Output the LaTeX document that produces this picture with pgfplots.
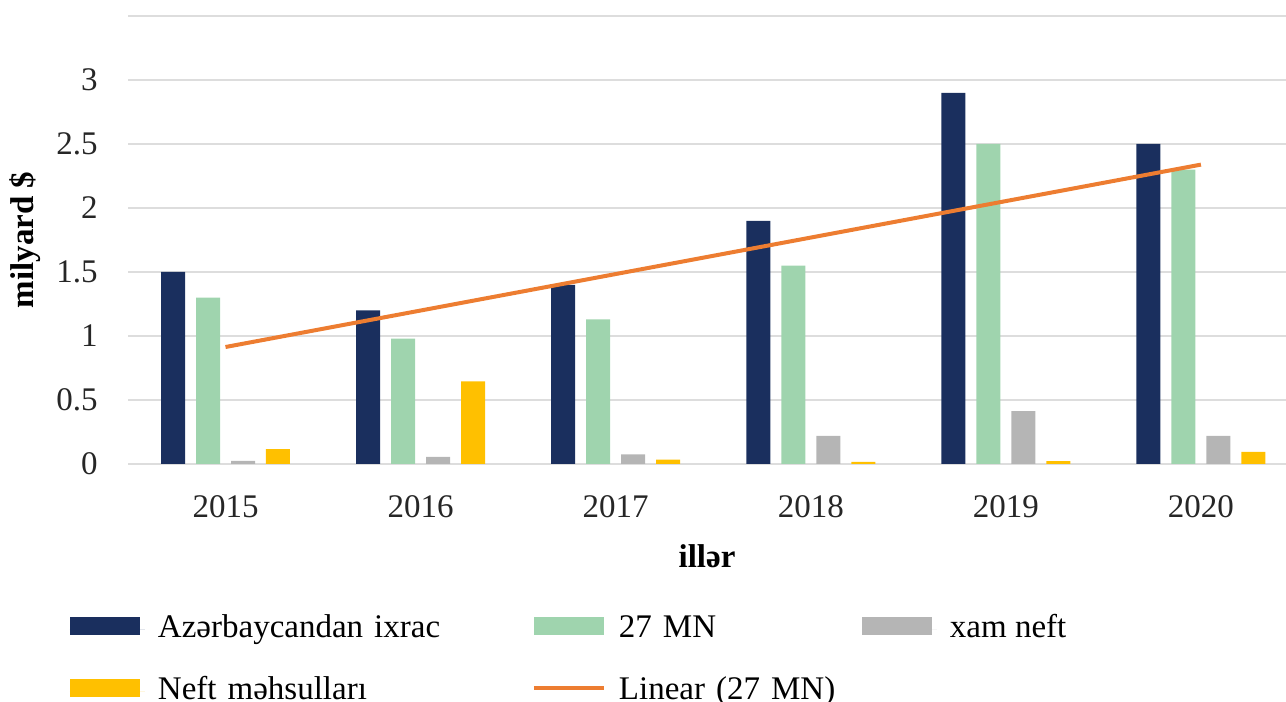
\documentclass[border=0pt]{standalone}
\usepackage{fontspec}
\setmainfont{Liberation Serif}
\usepackage{pgfplots}
\pgfplotsset{compat=1.18}
\definecolor{cnavy}{HTML}{1A2F5E}
\definecolor{cgreen}{HTML}{9FD4AE}
\definecolor{cgray}{HTML}{B5B5B5}
\definecolor{cyellow}{HTML}{FFC000}
\definecolor{corange}{HTML}{ED7D31}
\definecolor{cgrid}{HTML}{DDDDDD}
\begin{document}
\begin{tikzpicture}[font=\fontsize{16.5bp}{20bp}\selectfont]
\begin{axis}[
  at={(64bp,119bp)}, anchor=south west,
  scale only axis, width=579bp, height=224bp,
  xmin=-0.4998, xmax=5.436, ymin=0, ymax=3.5,
  xtick={0,1,2,3,4,5},
  xticklabels={2015,2016,2017,2018,2019,2020},
  ytick={0,0.5,1,1.5,2,2.5,3,3.5},
  yticklabels={0,0.5,1,1.5,2,2.5,3,},
  major tick length=0pt,
  axis line style={draw=none},
  ymajorgrids, grid style={draw=cgrid, line width=1bp},
  /pgf/number format/assume math mode=true,
  tick label style={inner sep=0pt, text=black!85},
  yticklabel style={anchor=east, xshift=-15bp},
  xticklabel style={anchor=north, yshift=-15.5bp},
  xlabel={\bfseries ill\char"0259r},
  ylabel={\bfseries milyard \$},
  every axis x label/.style={at={(axis description cs:0.5,-0.2054)}, anchor=center},
  every axis y label/.style={at={(axis description cs:-0.0889,0.5)}, rotate=90, anchor=center},
  legend columns=3,
  legend cell align=left,
  legend style={draw=none, fill=none, inner sep=0pt, outer sep=0pt,
    at={(axis description cs:-0.0501,-0.3344)}, anchor=north west,
    row sep=15bp,
    nodes={inner sep=0pt, text height=12bp, text depth=4bp},
    /tikz/every odd column/.append style={column sep=6.5bp},
    /tikz/column 2/.append style={text width=187bp},
    /tikz/column 4/.append style={text width=121.5bp}},
]
\addplot[ybar, bar width=0.123, bar shift=-0.269, fill=cnavy, draw=none,
  legend image code/.code={\fill[cnavy] (0bp,-2.5bp) rectangle (35bp,6.5bp); \path (0bp,0bp) -- (37.5bp,0bp);}]
  coordinates {(0,1.5) (1,1.2) (2,1.4) (3,1.9) (4,2.9) (5,2.5)};
\addlegendentry{Az\char"0259rbaycandan ixrac}
\addplot[ybar, bar width=0.123, bar shift=-0.0897, fill=cgreen, draw=none,
  legend image code/.code={\fill[cgreen] (0bp,-2.5bp) rectangle (35bp,6.5bp);}]
  coordinates {(0,1.3) (1,0.98) (2,1.13) (3,1.55) (4,2.5) (5,2.3)};
\addlegendentry{27 MN}
\addplot[ybar, bar width=0.123, bar shift=0.0897, fill=cgray, draw=none,
  legend image code/.code={\fill[cgray] (0bp,-2.5bp) rectangle (35bp,6.5bp); \path (0bp,0bp) -- (37.5bp,0bp);}]
  coordinates {(0,0.025) (1,0.055) (2,0.076) (3,0.22) (4,0.414) (5,0.22)};
\addlegendentry{xam neft}
\addplot[ybar, bar width=0.123, bar shift=0.269, fill=cyellow, draw=none,
  legend image code/.code={\fill[cyellow] (0bp,-2.5bp) rectangle (35bp,6.5bp); \path (0bp,0bp) -- (37.5bp,0bp);}]
  coordinates {(0,0.117) (1,0.646) (2,0.034) (3,0.016) (4,0.023) (5,0.094)};
\addlegendentry{Neft m\char"0259hsullar\char"0131}
\addplot[sharp plot, no marks, draw=corange, line width=2bp,
  legend image code/.code={\draw[corange, line width=2bp] (0bp,2bp) -- (35bp,2bp);}]
  coordinates {(0,0.914) (5,2.339)};
\addlegendentry{Linear (27 MN)}
\end{axis}
\pgfresetboundingbox
\path[use as bounding box] (0,0) rectangle (643bp,351bp);
\end{tikzpicture}
\end{document}
